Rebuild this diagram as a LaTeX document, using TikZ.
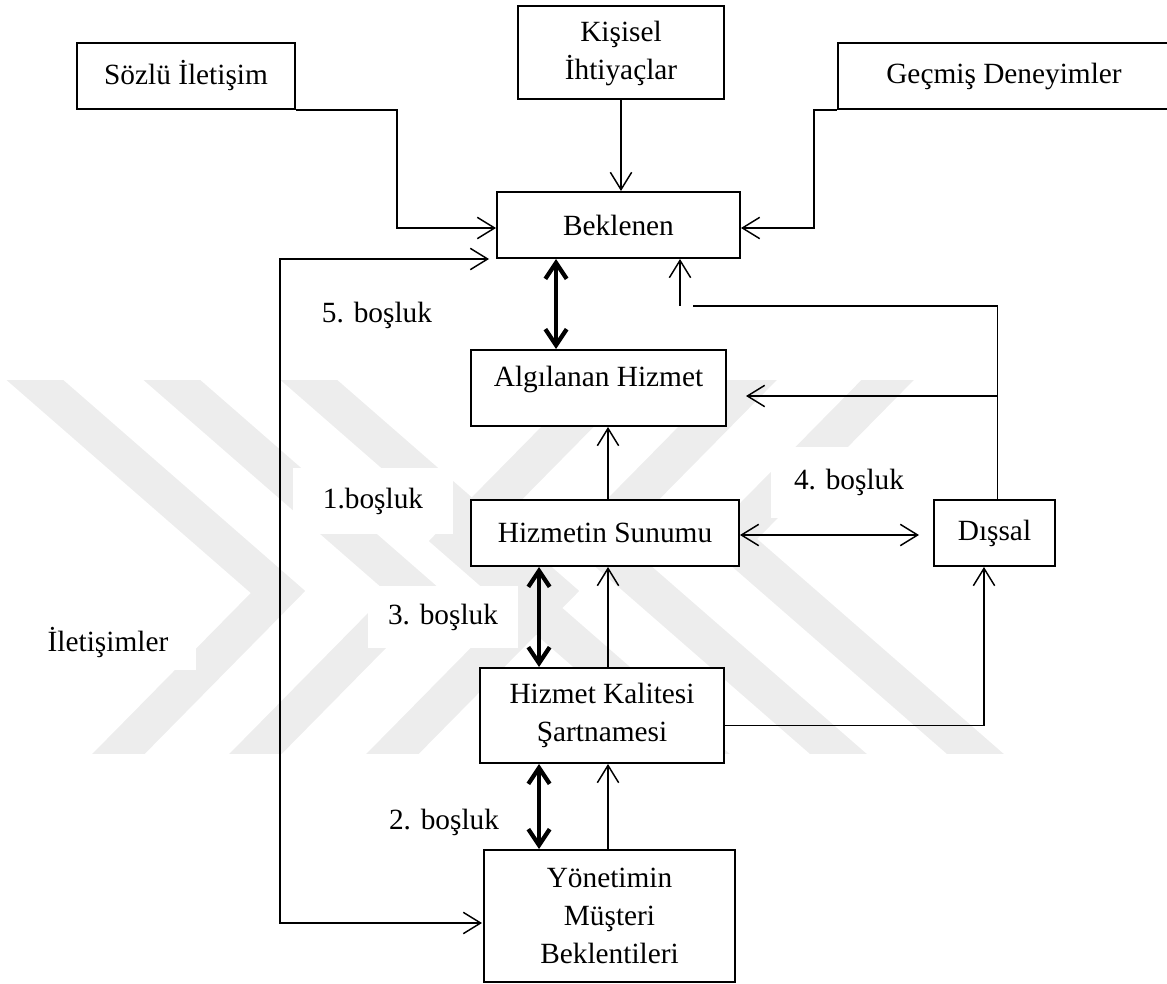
\documentclass[tikz,border=0pt]{standalone}
\usepackage{fontspec}
\setmainfont{Liberation Serif}
\usetikzlibrary{arrows.meta,calc}

\begin{document}
\begin{tikzpicture}[x=0.75pt,y=-0.75pt,
  box/.style={draw, line width=1.5pt, fill=white, inner sep=0pt, align=center,
              font=\fontsize{22}{28.5}\selectfont},
  lbl/.style={fill=white, inner sep=0pt, font=\fontsize{22}{26}\selectfont},
  conn/.style={line width=1.1pt},
  arr/.style={conn, -{Straight Barb[length=13pt,width=16pt]}},
  darr/.style={conn, {Straight Barb[length=13pt,width=16pt]}-{Straight Barb[length=13pt,width=16pt]}},
  gaparr/.style={line width=3.2pt, {Straight Barb[length=12pt,width=16pt]}-{Straight Barb[length=12pt,width=16pt]}},
  wmband/.style={line width=28pt, black!7, line join=miter, miter limit=10}]

\useasboundingbox (0,0) rectangle (1167,984);

% faint chevron watermark in the background
\begin{scope}
  \clip (0,380) rectangle (1167,753);
  \foreach \k in {0,1,2} {
    \draw[wmband] ({-11+137*\k},340) -- ({278+137*\k},592) -- ({80+137*\k},793);
    \draw[wmband] ({1019-137*\k},792) -- ({730-137*\k},540) -- ({928-137*\k},339);
  }
\end{scope}

% boxes (centre, width and height in px)
\node[box, minimum width=163.5pt, minimum height=49.5pt] (soz) at (186,76) {Sözlü İletişim};
\node[box, minimum width=154.5pt, minimum height=69.75pt] (kis) at (621,53) {Kişisel\\İhtiyaçlar};
\node[box, minimum width=249pt, minimum height=49.5pt] (gec) at (1004,76) {Geçmiş Deneyimler};
\node[box, minimum width=182.25pt, minimum height=49.5pt] (bek) at (618.5,225) {Beklenen};
\node[box, minimum width=191.25pt, minimum height=57pt, text depth=17pt] (alg) at (598.5,388) {Algılanan Hizmet};
\node[box, minimum width=201pt, minimum height=49.5pt] (hiz) at (605,533) {Hizmetin Sunumu};
\node[box, minimum width=183pt, minimum height=71.25pt] (kal) at (602,715.5) {Hizmet Kalitesi\\Şartnamesi};
\node[box, minimum width=188.25pt, minimum height=99pt] (yon) at (609.5,916) {Yönetimin\\Müşteri\\Beklentileri};
\node[box, minimum width=90.75pt, minimum height=49.5pt] (dis) at (994.5,533) {Dışsal};

% gap labels
\node[lbl] (g5) at (377,315) {5. boşluk};
\node[lbl, minimum width=120pt, minimum height=50pt] (g1) at (373,501) {1.boşluk};
\node[lbl, minimum width=112.5pt, minimum height=46.5pt] (g3) at (443,617) {3. boşluk};
\node[lbl, minimum width=117pt, minimum height=53pt] (g4) at (849,482.5) {4. boşluk};
\node[lbl] (g2) at (444,822) {2. boşluk};
\node[lbl, minimum width=132pt, minimum height=41pt] (ilet) at (108,642.5) {İletişimler};

% column positions of the vertical connectors
\coordinate (xT) at (556,0);
\coordinate (xK) at (539,0);
\coordinate (xF) at (608,0);
\coordinate (xD) at (984,0);
\coordinate (dN) at ($(dis.north)+(3,0)$);

% inputs to the expected service
\draw[arr] (soz.south east) -- ++(101,0) |- ($(bek.west)+(0,3)$);
\draw[arr] (kis.south) -- (kis.south |- bek.north);
\draw[arr] (gec.south west) -- ++(-23,0) |- ($(bek.east)+(0,3)$);

% communications loop
\draw[darr] ($(bek.south west)+(-7,0)$) -- ++(-209,0) |- ($(yon.west)+(-1,7)$);

% gaps
\draw[gaparr] (xT |- bek.south) -- (xT |- alg.north);
\draw[gaparr] (xK |- hiz.south) -- (xK |- kal.north);
\draw[gaparr] (xK |- kal.south) -- (xK |- yon.north);

% upward flow
\draw[arr] (xF |- hiz.north) -- (xF |- alg.south);
\draw[arr] (xF |- kal.north) -- (xF |- hiz.south);
\draw[arr] (xF |- yon.north) -- (xF |- kal.south);

% external communications
\draw[darr, shorten >=10.5pt] ($(hiz.east)+(0,2)$) -- ($(dis.west)+(0,2)$);
\draw[arr] ($(kal.east)+(0,10)$) -| (xD |- dis.south);
\coordinate (fbL) at (693,306);
\coordinate (fbA) at (680,306);
\coordinate (brA) at (746,396);
\draw[conn] (dN) |- (fbL);
\draw[arr] (fbA) -- (fbA |- bek.south);
\draw[arr] (dN |- brA) -- (brA);

\end{tikzpicture}
\end{document}
